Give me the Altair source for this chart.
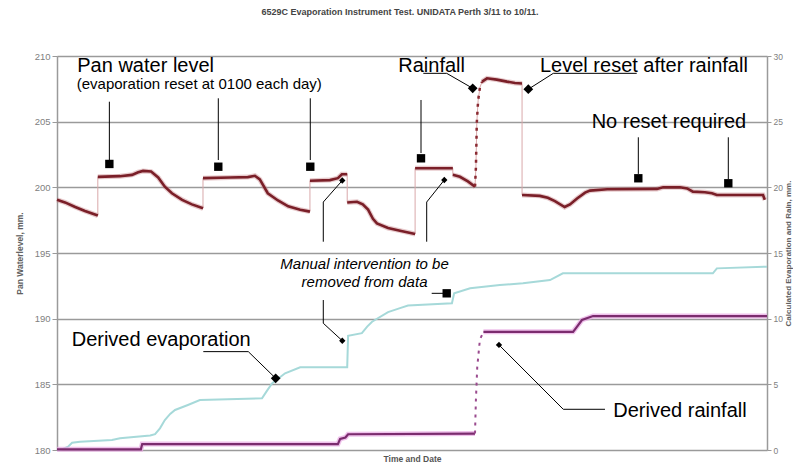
import altair as alt
import pandas as pd

# ---------------- data (time in hours from start, values in mm) ----------------
pan_hours = [0.0, 1.8, 4.1, 6.3, 9.2,
             9.2, 14.2, 16.9, 18.3, 19.4, 21.2, 22.8, 24.3, 25.9, 28.2, 30.4, 32.9,
             32.9, 39.0, 43.0, 44.6, 45.7, 47.5, 49.8, 52.1, 54.8, 57.0,
             57.0, 61.5, 63.3, 64.2, 65.4,
             65.4, 67.6, 68.9, 70.1, 71.2, 72.1, 74.6, 77.3, 80.7,
             80.7, 89.2,
             89.2, 90.8, 92.6, 94.2,
             94.2, 94.4, 94.5, 94.6, 94.9, 95.3, 95.8,
             95.8, 96.9, 99.1, 101.4, 103.2, 104.8,
             104.8, 108.8, 110.6, 112.2, 114.4, 115.6, 117.2, 119.0, 120.1, 124.0,
             135.2, 136.6, 140.4, 142.0, 143.3, 146.0, 147.6, 148.7, 159.1, 159.5]
pan_level = [199.05, 198.85, 198.5, 198.2, 197.85,
             200.8, 200.85, 200.95, 201.15, 201.25, 201.2, 200.75, 200.05, 199.55, 199.05, 198.7, 198.4,
             200.7, 200.75, 200.78, 200.88, 200.6, 199.55, 199.0, 198.55, 198.3, 198.15,
             200.5, 200.55, 200.7, 201.0, 201.0,
             198.85, 198.9, 198.7, 198.3, 197.6, 197.25, 196.9, 196.7, 196.45,
             201.45, 201.45,
             200.95, 200.8, 200.45, 200.05,
             200.05, 201.5, 203.1, 204.9, 206.6, 207.6, 208.05,
             208.05, 208.3, 208.2, 208.05, 207.95, 207.9,
             199.42, 199.35, 199.2, 198.95, 198.5, 198.7, 199.15, 199.6, 199.75, 199.85,
             199.88, 200.0, 200.0, 199.92, 199.67, 199.62, 199.55, 199.42, 199.42, 199.05]
pan_seg = (["s1"] * 5 + ["s2"] * 12 + ["s3"] * 10 + ["s4"] * 5 + ["s5"] * 9 + ["s6"] * 2
           + ["s7"] * 4 + ["rise"] * 7 + ["s8"] * 6 + ["s9"] * 20)

evap_hours = [0.0, 1.1, 2.5, 3.4, 5.2, 12.4, 14.2, 21.0, 22.1, 23.2, 24.3, 25.5, 26.6, 29.5,
              32.2, 46.2, 47.3, 48.5, 51.4, 54.8, 65.4, 65.6, 68.7, 69.9, 71.0, 74.6, 77.3,
              79.1, 89.0, 89.5, 93.1, 99.8, 105.0, 111.1, 114.0, 147.8, 148.7, 160.0]
evap_mm = [0.0, 0.05, 0.25, 0.55, 0.63, 0.76, 0.9, 1.1, 1.2, 1.65, 2.28, 2.75, 3.05, 3.43,
           3.8, 3.93, 4.5, 5.08, 5.84, 6.3, 6.3, 8.7, 8.9, 9.4, 9.77, 10.5, 10.8,
           11.0, 11.17, 11.93, 12.31, 12.56, 12.69, 12.94, 13.45, 13.45, 13.83, 13.96]

rain_hours = [0.0, 18.9, 19.2, 63.3, 63.8, 65.0, 65.6, 94.2,
              94.2, 94.4, 94.7, 95.3, 96.1,
              96.1, 116.3, 117.2, 118.3, 120.8, 160.0]
rain_mm = [0.05, 0.05, 0.45, 0.45, 0.85, 0.95, 1.2, 1.25,
           1.25, 3.8, 6.3, 8.4, 9.0,
           9.0, 9.0, 9.4, 9.9, 10.2, 10.2]
rain_seg = ["r1"] * 8 + ["rise"] * 5 + ["r2"] * 6

left_ticks = [180, 185, 190, 195, 200, 205, 210]
right_ticks = [0, 5, 10, 15, 20, 25, 30]

# ---------------- annotations (in hours / pan-level mm) ----------------
ann_text = ["Pan water level", "(evaporation reset at 0100 each day)", "Rainfall",
            "Level reset after rainfall", "No reset required", "Derived evaporation",
            "Derived rainfall", "Manual intervention to be", "removed from data"]
ann_h = [4.57, 4.44, 76.91, 108.84, 120.49, 3.31, 125.36, 69.3, 69.3]
ann_v = [208.81, 207.49, 208.81, 208.81, 204.5, 187.92, 182.54, 193.78, 192.39]
ann_kind = ["big", "small", "big", "big", "big", "big", "big", "italic", "italic"]

lead_h1 = [11.8, 36.35, 57.08, 82.03, 131.0, 151.28,
           64.29, 60.01, 87.28, 83.31, 60.01, 60.01, 84.44,
           82.55, 87.82, 111.84, 111.84, 32.97, 43.11, 123.49, 114.09]
lead_v1 = [206.52, 206.78, 206.78, 206.65, 203.81, 203.81,
           200.52, 198.88, 200.56, 198.88, 191.42, 189.65, 191.93,
           208.68, 208.68, 208.68, 208.68, 187.49, 187.49, 183.1, 183.1]
lead_h2 = [11.8, 36.35, 57.08, 82.03, 131.0, 151.28,
           60.01, 60.01, 83.31, 83.31, 60.01, 64.29, 87.82,
           87.82, 93.68, 130.64, 106.21, 43.11, 49.28, 114.09, 99.6]
lead_v2 = [202.08, 202.08, 202.08, 202.61, 201.02, 200.63,
           198.88, 195.86, 198.88, 195.86, 189.65, 188.32, 191.93,
           208.68, 207.54, 208.68, 207.47, 187.49, 185.46, 183.1, 188.0]

mark_h = [11.8, 36.35, 57.08, 82.03, 131.0, 151.28, 87.82,
          64.29, 87.28, 64.29, 99.6,
          93.68, 106.21, 49.28]
mark_v = [201.78, 201.57, 201.57, 202.21, 200.69, 200.31, 191.93,
          200.52, 200.56, 188.32, 188.0,
          207.54, 207.47, 185.46]
mark_kind = ["square"] * 7 + ["small"] * 4 + ["big"] * 3

# ---------------- frames ----------------
pan_df = pd.DataFrame({"h": pan_hours, "v": pan_level, "seg": pan_seg,
                       "i": list(range(len(pan_hours)))})
evap_df = pd.DataFrame({"h": evap_hours, "r": evap_mm, "i": list(range(len(evap_hours)))})
rain_df = pd.DataFrame({"h": rain_hours, "r": rain_mm, "seg": rain_seg,
                        "i": list(range(len(rain_hours)))})
ann_df = pd.DataFrame({"h": ann_h, "v": ann_v, "t": ann_text, "k": ann_kind})
lead_df = pd.DataFrame({"h": lead_h1, "v": lead_v1, "h2": lead_h2, "v2": lead_v2})
mark_df = pd.DataFrame({"h": mark_h, "v": mark_v, "k": mark_kind})

FONT = "Liberation Sans"
GRAY = "#9a9a9a"

xscale = alt.Scale(domain=[0, 160], nice=False, zero=False)
xaxis = alt.Axis(title="Time and Date", labels=False, ticks=False, grid=False, domain=False,
                 titleFontSize=8.5, titleColor="#555", titleFontWeight="bold",
                 titleFont=FONT, titlePadding=4)
X = alt.X("h:Q", scale=xscale, axis=xaxis)

lscale = alt.Scale(domain=[180, 210], nice=False, zero=False)
rscale = alt.Scale(domain=[0, 30], nice=False, zero=False)

laxis = alt.Axis(orient="left", values=left_ticks, format="d", title="Pan Waterlevel, mm.",
                 grid=True, gridColor=GRAY, gridWidth=1.5, domainColor=GRAY, domainWidth=1.5,
                 tickColor=GRAY, tickSize=5, labelFontSize=9.5, labelColor="#808080",
                 labelFont=FONT, labelPadding=2, titleFontSize=8.5, titleColor="#606060",
                 titleFont=FONT, titleFontWeight="bold", titlePadding=10)
raxis = alt.Axis(orient="right", values=right_ticks, format="d",
                 title="Calculated Evaporation and Rain, mm.", titleAngle=270,
                 titleBaseline="top",
                 grid=False, domainColor=GRAY, domainWidth=1.5, tickColor=GRAY, tickSize=4,
                 labelFontSize=8.5, labelColor="#808080", labelFont=FONT, labelPadding=2,
                 titleFontSize=8, titleColor="#606060", titleFont=FONT, titleFontWeight="bold",
                 titlePadding=2)

YL = alt.Y("v:Q", scale=lscale, axis=laxis)
YLn = alt.Y("v:Q", scale=lscale, axis=None)
YR = alt.Y("r:Q", scale=rscale, axis=raxis)
YRn = alt.Y("r:Q", scale=rscale, axis=None)

pan_base = alt.Chart(pan_df)
pan_halo = pan_base.transform_filter("datum.seg != 'rise'").mark_line(
    color="#c98a8e", strokeWidth=5, opacity=0.45).encode(
    x=X, y=YL, detail="seg:N", order="i:Q")
evap_line = alt.Chart(evap_df).mark_line(color="#a6d9d9", strokeWidth=2).encode(
    x=X, y=YR, order="i:Q")
pan_thin = pan_base.mark_line(color="#d9a8aa", strokeWidth=1).encode(
    x=X, y=YLn, order="i:Q")
pan_core = pan_base.transform_filter("datum.seg != 'rise'").mark_line(
    color="#7a1f28", strokeWidth=2.6).encode(x=X, y=YLn, detail="seg:N", order="i:Q")
pan_rise = pan_base.transform_filter("datum.seg == 'rise'").mark_line(
    color="#8a2a32", strokeWidth=2.5, strokeDash=[3, 5]).encode(x=X, y=YLn, order="i:Q")

rain_base = alt.Chart(rain_df)
rain_halo = rain_base.transform_filter("datum.seg != 'rise'").mark_line(
    color="#e8a6e3", strokeWidth=5, opacity=0.7).encode(x=X, y=YRn, detail="seg:N", order="i:Q")
rain_core = rain_base.transform_filter("datum.seg != 'rise'").mark_line(
    color="#7b2c6e", strokeWidth=2.2).encode(x=X, y=YRn, detail="seg:N", order="i:Q")
rain_rise = rain_base.transform_filter("datum.seg == 'rise'").mark_line(
    color="#9a4a8e", strokeWidth=2, strokeDash=[3, 5]).encode(x=X, y=YRn, order="i:Q")

leads = alt.Chart(lead_df).mark_rule(color="black", strokeWidth=1).encode(
    x=X, y=YLn, x2="h2:Q", y2="v2:Q")
squares = alt.Chart(mark_df).transform_filter("datum.k == 'square'").mark_point(
    shape="square", filled=True, color="black", size=70, opacity=1).encode(x=X, y=YLn)
small_d = alt.Chart(mark_df).transform_filter("datum.k == 'small'").mark_point(
    shape="diamond", filled=True, color="black", size=40, opacity=1).encode(x=X, y=YLn)
big_d = alt.Chart(mark_df).transform_filter("datum.k == 'big'").mark_point(
    shape="diamond", filled=True, color="black", size=95, opacity=1).encode(x=X, y=YLn)

txt_big = alt.Chart(ann_df).transform_filter("datum.k == 'big'").mark_text(
    align="left", baseline="alphabetic", font=FONT, fontSize=20, color="black").encode(
    x=X, y=YLn, text="t:N")
txt_small = alt.Chart(ann_df).transform_filter("datum.k == 'small'").mark_text(
    align="left", baseline="alphabetic", font=FONT, fontSize=15, color="black").encode(
    x=X, y=YLn, text="t:N")
txt_it = alt.Chart(ann_df).transform_filter("datum.k == 'italic'").mark_text(
    align="center", baseline="alphabetic", font=FONT, fontSize=15, fontStyle="italic",
    color="black").encode(x=X, y=YLn, text="t:N")

chart = alt.layer(
    pan_halo, evap_line, pan_thin, pan_core, pan_rise, rain_halo, rain_core, rain_rise,
    leads, squares, small_d, big_d, txt_big, txt_small, txt_it
).resolve_scale(y="independent").properties(
    width=710, height=394,
    title=alt.TitleParams("6529C Evaporation Instrument Test. UNIDATA Perth 3/11 to 10/11.",
                          fontSize=9, font=FONT, fontWeight="bold", color="#444",
                          anchor="middle", frame="group", offset=34, dx=-12),
    padding={"left": 49, "top": 48, "right": 26, "bottom": 14},
    autosize=alt.AutoSizeParams(type="none"),
).configure_view(stroke=None).configure(background="white")

chart.save("out.html", embed_options={"renderer": "svg", "actions": False})
